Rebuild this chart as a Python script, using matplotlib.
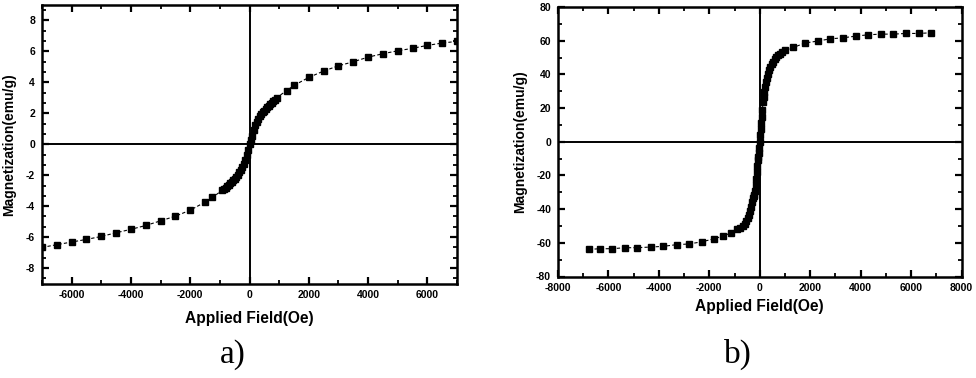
import matplotlib
matplotlib.use("Agg")
import matplotlib.pyplot as plt
from matplotlib.ticker import MultipleLocator

plt.rcParams['axes.unicode_minus'] = False
plt.rcParams['font.family'] = ['Liberation Sans', 'DejaVu Sans']

# ---- Panel a data (Applied field in Oe, magnetization in emu/g)
field_a = [-7000, -6500, -6000, -5500, -5000, -4500, -4000, -3500, -3000, -2500,
           -2000, -1500, -1250, -920, -850, -800, -750, -700, -650, -600,
           -550, -500, -450, -400, -350, -300, -250, -200, -150, -100,
           -50, 0, 50, 100, 150, 200, 250, 300, 350, 400,
           450, 500, 550, 600, 650, 700, 750, 800, 850, 920,
           1250, 1500, 2000, 2500, 3000, 3500, 4000, 4500, 5000, 5500,
           6000, 6500, 7000]
mag_a = [-6.67, -6.49, -6.32, -6.15, -5.96, -5.72, -5.50, -5.25, -4.95, -4.65,
         -4.26, -3.74, -3.44, -2.97, -2.88, -2.80, -2.71, -2.62, -2.52, -2.42,
         -2.32, -2.22, -2.10, -1.97, -1.82, -1.65, -1.47, -1.28, -1.00, -0.70,
         -0.35, 0.0, 0.28, 0.55, 0.95, 1.25, 1.46, 1.65, 1.81, 1.95,
         2.07, 2.18, 2.29, 2.40, 2.50, 2.60, 2.69, 2.78, 2.88, 3.02,
         3.46, 3.80, 4.32, 4.73, 5.07, 5.33, 5.63, 5.85, 6.04, 6.20,
         6.39, 6.54, 6.65]

# ---- Panel b data
field_b = [-6770, -6340, -5840, -5350, -4850, -4320, -3830, -3300, -2810, -2300,
           -1800, -1470, -1150, -920, -780, -660, -590, -530, -470, -420,
           -370, -330, -295, -265, -235, -212, -185, -160, -135, -110,
           -90, -70, -55, -40, -20, 0, 20, 40, 60, 80,
           105, 130, 150, 170, 200, 240, 285, 330, 375, 420,
           475, 530, 590, 660, 730, 800, 900, 1000, 1330, 1800,
           2300, 2800, 3300, 3800, 4300, 4800, 5300, 5800, 6300, 6800]
mag_b = [-63.9, -63.5, -63.5, -62.9, -62.9, -62.5, -62.1, -61.1, -60.7, -59.4,
         -57.6, -56.0, -54.2, -52.0, -51.2, -50.3, -48.8, -47.3, -45.5, -43.4,
         -41.0, -38.5, -36.0, -33.5, -32.5, -31.5, -29.0, -25.6, -22.0, -18.0,
         -14.5, -11.0, -9.0, -6.5, -3.5, 0.0, 3.8, 7.5, 11.0, 14.5,
         19.0, 23.5, 26.5, 29.5, 32.5, 35.5, 38.0, 40.4, 42.5, 44.3,
         46.0, 47.3, 49.0, 50.3, 51.3, 52.3, 53.3, 54.2, 56.0, 58.6,
         59.8, 61.1, 61.7, 62.7, 63.5, 63.9, 63.9, 64.3, 64.3, 64.7]

xlabel = "Applied Field(Oe)"
ylabel = "Magnetization(emu/g)"

W, H = 976, 378
fig = plt.figure(figsize=(W / 100, H / 100), dpi=100)

def rect(l, t, r, b):
    return [l / W, 1 - b / H, (r - l) / W, (b - t) / H]

ax_a = fig.add_axes(rect(42, 5, 457, 283.5))
ax_b = fig.add_axes(rect(558, 7, 961.5, 276.5))

def style(ax, xlim, ylim, xmaj, xmin, ymaj, ymin, xlab_off, ylab_off):
    ax.axhline(0, color='black', lw=1.4, zorder=1)
    ax.axvline(0, color='black', lw=1.4, zorder=1)
    ax.set_xlim(*xlim)
    ax.set_ylim(*ylim)
    ax.xaxis.set_major_locator(MultipleLocator(xmaj))
    ax.xaxis.set_minor_locator(MultipleLocator(xmin))
    ax.yaxis.set_major_locator(MultipleLocator(ymaj))
    ax.yaxis.set_minor_locator(MultipleLocator(ymin))
    ax.tick_params(which='both', direction='in', top=True, right=True)
    ax.tick_params(which='major', length=5, width=1.6, labelsize=7.5, pad=5)
    ax.tick_params(which='minor', length=3, width=1.3)
    for lab in ax.get_xticklabels() + ax.get_yticklabels():
        lab.set_fontweight('bold')
    for sp in ax.spines.values():
        sp.set_linewidth(1.8)
    ax.set_xlabel(xlabel, fontsize=11.2, fontweight='bold')
    ax.set_ylabel(ylabel, fontsize=10, fontweight='bold')
    ax.xaxis.set_label_coords(0.5, xlab_off)
    ax.xaxis.label.set_verticalalignment('center')
    ax.yaxis.set_label_coords(ylab_off, 0.5)
    ax.yaxis.label.set_verticalalignment('center')

ax_a.plot(field_a, mag_a, color='black', lw=0.8, ls=(0, (3, 2)),
          marker='s', ms=4.3, mec='black', mfc='black', zorder=3)
ax_b.plot(field_b, mag_b, color='black', lw=0.8, ls=(0, (3, 2)),
          marker='s', ms=4.3, mec='black', mfc='black', zorder=3)

style(ax_a, (-7000, 7000), (-9, 9), 2000, 1000, 2, 2 / 3,
      -(319 - 283.5) / 278.5, -(42 - 9) / 415)
style(ax_b, (-8000, 8000), (-80, 80), 2000, 1000, 20, 10,
      -(306 - 276.5) / 269.5, -(558 - 520) / 403.5)

fig.text(233 / W, 1 - 363 / H, "a)", family=['Liberation Serif', 'DejaVu Serif'],
         fontsize=24, ha='center', va='baseline')
fig.text(738 / W, 1 - 363 / H, "b)", family=['Liberation Serif', 'DejaVu Serif'],
         fontsize=24, ha='center', va='baseline')

fig.savefig("out.png", dpi=100)
